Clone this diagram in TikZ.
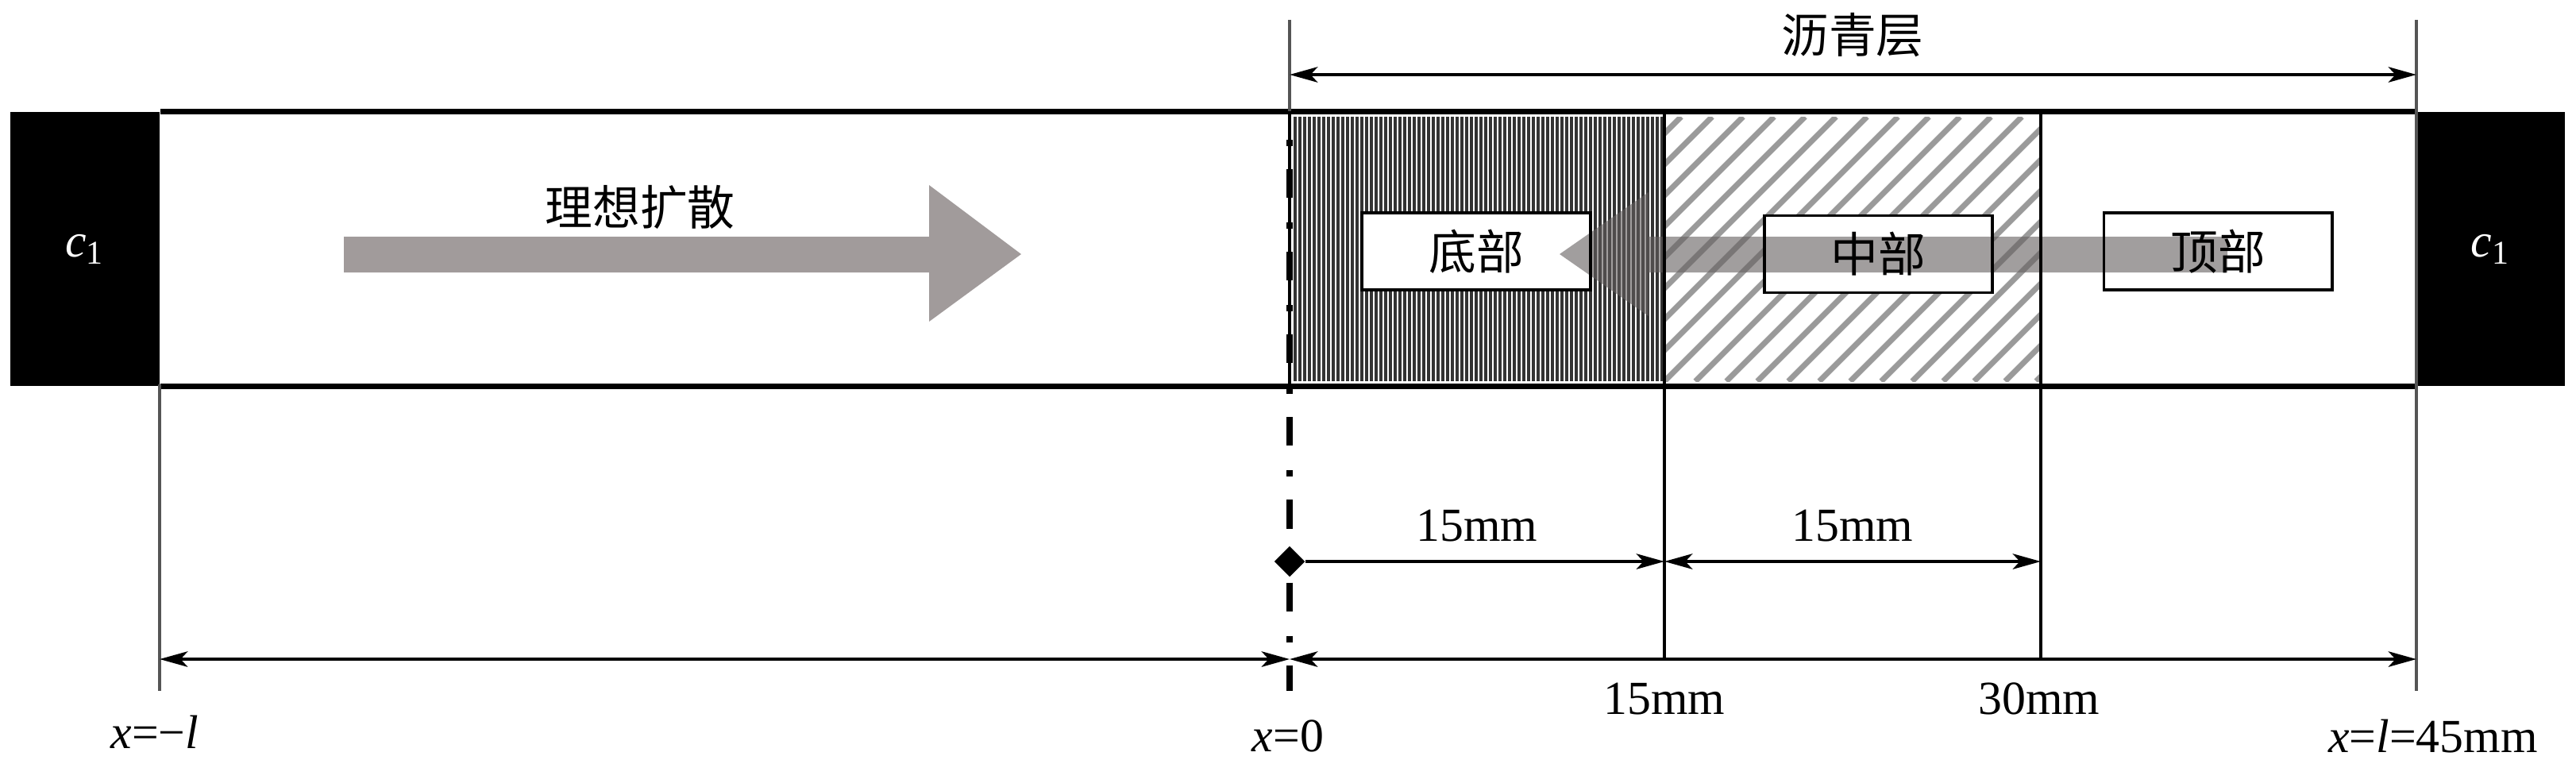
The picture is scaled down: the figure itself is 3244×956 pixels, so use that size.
\documentclass[tikz,border=0pt]{standalone}
\usepackage{fontspec}
\setmainfont{Liberation Serif}
\newfontfamily\cjkfont{Noto Sans CJK SC}
\usepackage{xcolor}
\usetikzlibrary{arrows.meta,shapes.geometric,positioning}
\definecolor{hatchdark}{HTML}{333333}
\definecolor{hatchgray}{HTML}{9A9A9A}
\definecolor{flowgray}{HTML}{A19B9B}
\definecolor{flowdark}{HTML}{635E5E}
\definecolor{guide}{HTML}{555555}
\pgfdeclarelayer{back}
\pgfdeclarelayer{boxfill}
\pgfdeclarelayer{flow}
\pgfsetlayers{back,boxfill,flow,main}

\begin{document}
\begin{tikzpicture}[x=0.01cm, y=-0.01cm,
  font=\fontsize{17pt}{20pt}\selectfont,
  >={Stealth[length=10pt,width=5.5pt,inset=2.5pt]},
  dimline/.style={line width=1.3pt, <->},
  guideline/.style={line width=0.9pt, guide},
  cjk/.style={font=\cjkfont\fontsize{17pt}{20pt}\selectfont},
  zonebox/.style={cjk, draw, line width=1.1pt, minimum width=2.87cm, minimum height=0.97cm, inner sep=0pt},
  source/.style={fill=black, text=white, inner sep=0pt, minimum height=3.45cm}]
  \useasboundingbox (0,0) rectangle (3244,956);

  % columns and rows
  \coordinate (lTop) at (201,484);  \coordinate (lBot) at (201,870);
  \coordinate (oTop) at (1624,25);  \coordinate (oBot) at (1624,870);
  \coordinate (oDash) at (1624,176);
  \coordinate (aTop) at (2096,143); \coordinate (aBot) at (2096,830);
  \coordinate (bTop) at (2570,143); \coordinate (bBot) at (2570,830);
  \coordinate (rTop) at (3043,25);  \coordinate (rBot) at (3043,870);
  \coordinate (rowTop) at (0,94);
  \coordinate (rowMid) at (0,707);
  \coordinate (rowBot) at (0,830);

  % sources at both ends
  \node[source, minimum width=1.88cm] (srcL) at (107,313.5) {\textit{c}\textsubscript{1}};
  \node[source, minimum width=1.87cm] (srcR) at (3136.5,313.5) {\textit{c}\textsubscript{1}};
  \draw[line width=2pt] (srcL.north east) -- (srcR.north west);
  \draw[line width=2pt] (srcL.south east) -- (srcR.south west);

  % hatching of the bottom and middle zones
  \begin{pgfonlayer}{back}
    \foreach \i in {0,...,77}
      \draw[hatchdark, line width=1pt] (1631+6*\i,147) -- ++(0,333);
    \begin{scope}
      \clip (2096,147) rectangle (2570,480);
      \foreach \k in {-9,...,13}
        \draw[hatchgray, line width=2pt] (2096+39*\k,480) -- ++(333,-333);
    \end{scope}
  \end{pgfonlayer}

  % zone boundaries and guide lines
  \draw[line width=1.1pt] (oTop |- srcL.north) -- (oTop |- srcL.south);
  \draw[guideline] (oTop) -- (oTop |- srcL.north);
  \draw[line width=1pt] (aTop) -- (aBot);
  \draw[line width=1pt] (bTop) -- (bBot);
  \draw[guideline] (rTop) -- (rBot);
  \draw[guideline] (lTop) -- (lBot);
  \draw[line width=2.5pt, dash pattern=on 2.3pt off 8.25pt on 10.25pt off 8.8pt] (oDash) -- (oBot);

  % zones
  \node[zonebox] (bottomzone) at (1859,316.5) {底部};
  \node[zonebox] (middlezone) at (2365.5,320) {中部};
  \node[zonebox] (topzone) at (2793,316.5) {顶部};
  \begin{pgfonlayer}{boxfill}
    \foreach \b in {bottomzone,middlezone,topzone}
      \fill[white] (\b.south west) rectangle (\b.north east);
  \end{pgfonlayer}

  % diffusion arrows
  \fill[flowgray] (433,298) -- (1170,298) -- (1170,233) -- (1286,320)
    -- (1170,405) -- (1170,343) -- (433,343) -- cycle;
  \node[cjk] (ideal) at (806,261) {理想扩散};
  \begin{pgfonlayer}{flow}
    \fill[flowdark, opacity=0.6] (2805,298) -- (2076,298) -- (2076,242) -- (1964,320)
      -- (2076,398) -- (2076,343) -- (2805,343) -- cycle;
  \end{pgfonlayer}

  % dimensions
  \draw[dimline] (oTop |- rowTop) -- (rTop |- rowTop);
  \node[cjk] (asphalt) at (2333,44) {沥青层};
  \node[diamond, fill=black, inner sep=0pt, minimum size=0.39cm] (origin) at (oTop |- rowMid) {};
  \draw[line width=1.3pt, ->] (origin.east) -- (aTop |- rowMid);
  \draw[dimline] (aTop |- rowMid) -- (bTop |- rowMid);
  \node (dimA) at (1860,662) {15mm};
  \node (dimB) at (2333,662) {15mm};
  \draw[dimline] (lTop |- rowBot) -- (oTop |- rowBot);
  \draw[dimline] (oTop |- rowBot) -- (rTop |- rowBot);
  \node (at15) at (2096,880) {15mm};
  \node (at30) at (2568,880) {30mm};
  \node (xneg) at (195,922) {\textit{x}=−\textit{l}};
  \node (xzero) at (1622,927) {\textit{x}=0};
  \node (xpos) at (3064,927) {\textit{x}=\textit{l}=45mm};
\end{tikzpicture}
\end{document}
